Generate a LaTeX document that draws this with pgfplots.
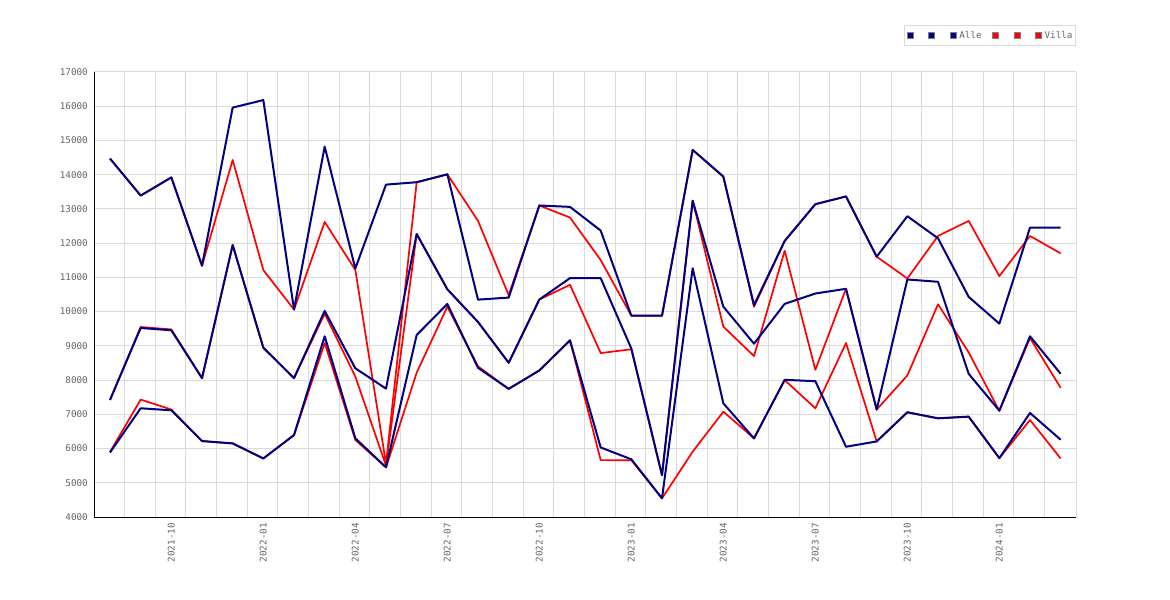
\documentclass[border=0pt]{standalone}
\usepackage{fontspec}
\usepackage{pgfplots}
\usepackage{pgfplotstable}
\pgfplotsset{compat=1.18}
\newfontfamily\monofont{DejaVu Sans Mono}
\definecolor{navyc}{RGB}{0,0,128}
\definecolor{redc}{RGB}{255,0,0}
\definecolor{gridc}{RGB}{218,218,218}
\definecolor{txtc}{RGB}{100,100,100}

% i = month index, 0 = 2021-08 ... 31 = 2024-03
\pgfplotstableread{
i  a1     a2     a3
0  14470  7420   5886
1  13390  9522   7176
2  13920  9454   7117
3  11340  8056   6218
4  15960  11946  6150
5  16180  8945   5710
6  10060  8056   6394
7  14820  10021  9278
8  11260  8344   6299
9  13710  7750   5452
10 13780  12268  9317
11 14010  10652  10223
12 10350  9698   8359
13 10410  8505   7743
14 13100  10353  8281
15 13060  10978  9160
16 12367  10978  6032
17 9880   8920   5686
18 9880   5220   4545
19 14725  13241  11266
20 13945  10144  7321
21 10190  9063   6296
22 12064  10226  8007
23 13139  10529  7968
24 13364  10666  6052
25 11604  7137   6208
26 12787  10939  7059
27 12142  10871  6883
28 10431  8183   6932
29 9649   7108   5719
30 12455  9278   7039
31 12455  8183   6257
}\alletable

\pgfplotstableread{
i  v1     v2     v3
0  14470  7420   5900
1  13390  9550   7430
2  13920  9480   7140
3  11340  8056   6218
4  14429  11946  6150
5  11213  8945   5710
6  10060  8056   6394
7  12621  9940   9082
8  11217  8100   6250
9  5550   5500   5450
10 13778  12268  8216
11 14012  10652  10144
12 12650  9698   8400
13 10480  8505   7743
14 13100  10353  8281
15 12748  10783  9160
16 11506  8789   5661
17 9880   8900   5660
18 9880   5220   4545
19 14722  13241  5908
20 13942  9560   7076
21 10140  8701   6300
22 12064  11780  8000
23 13139  8300   7176
24 13364  10670  9082
25 11604  7137   6208
26 10969  8134   7059
27 12210  10216  6883
28 12650  8808   6932
29 11037  7100   5720
30 12210  9229   6834
31 11702  7772   5710
}\villatable

\begin{document}
\begin{tikzpicture}
\path[use as bounding box] (-94bp,-83bp) rectangle (1076bp,517bp);
\begin{axis}[
  at={(0,0)}, anchor=south west,
  scale only axis, width=982bp, height=445bp,
  xmin=-0.522, xmax=31.5, ymin=4000, ymax=17000,
  axis lines=left,
  axis line style={-, black, line width=1bp},
  xtick={2,5,...,29},
  xticklabels={2021-10,2022-01,2022-04,2022-07,2022-10,2023-01,2023-04,2023-07,2023-10,2024-01},
  minor xtick={0.47,1.47,...,30.47,31.5},
  ytick={4000,5000,...,17000},
  scaled y ticks=false,
  yticklabel style={/pgf/number format/1000 sep={}},
  /pgf/number format/assume math mode=true,
  xminorgrids, ymajorgrids,
  major grid style={gridc, line width=1bp},
  minor grid style={gridc, line width=1bp},
  major tick length=0pt, minor tick length=0pt,
  tick label style={font=\monofont\fontsize{9.3}{10}\selectfont, text=txtc, inner sep=0pt},
  x tick label style={rotate=90, anchor=east},
  xticklabel shift=6bp,
  yticklabel shift=6bp,
  legend columns=6,
  legend image code/.code={\draw[#1, draw=gray, line width=0.8bp] (0bp,-3bp) rectangle (6bp,3bp);},
  legend style={at={(rel axis cs:1,1)}, anchor=south east, yshift=26bp,
    draw=gridc, line width=1bp, fill=white,
    font=\monofont\fontsize{9.3}{10}\selectfont, text=txtc,
    inner xsep=3bp, inner ysep=5.5bp,
    nodes={inner sep=0pt},
    /tikz/every odd column/.append style={column sep=3bp},
    /tikz/every even column/.append style={column sep=10.5bp}},
]
\addlegendimage{fill=navyc}\addlegendentry{\mbox{}}
\addlegendimage{fill=navyc}\addlegendentry{\mbox{}}
\addlegendimage{fill=navyc}\addlegendentry{Alle\hspace{-6bp}}
\addlegendimage{fill=redc}\addlegendentry{\mbox{}}
\addlegendimage{fill=redc}\addlegendentry{\mbox{}}
\addlegendimage{fill=redc}\addlegendentry{Villa}

\addplot[forget plot, redc, line width=1.7bp, line join=round] table[x=i, y=v1] {\villatable};
\addplot[forget plot, redc, line width=1.7bp, line join=round] table[x=i, y=v2] {\villatable};
\addplot[forget plot, redc, line width=1.7bp, line join=round] table[x=i, y=v3] {\villatable};
\addplot[forget plot, navyc, line width=2bp, line join=round] table[x=i, y=a1] {\alletable};
\addplot[forget plot, navyc, line width=2bp, line join=round] table[x=i, y=a2] {\alletable};
\addplot[forget plot, navyc, line width=2bp, line join=round] table[x=i, y=a3] {\alletable};
\end{axis}
\end{tikzpicture}
\end{document}
